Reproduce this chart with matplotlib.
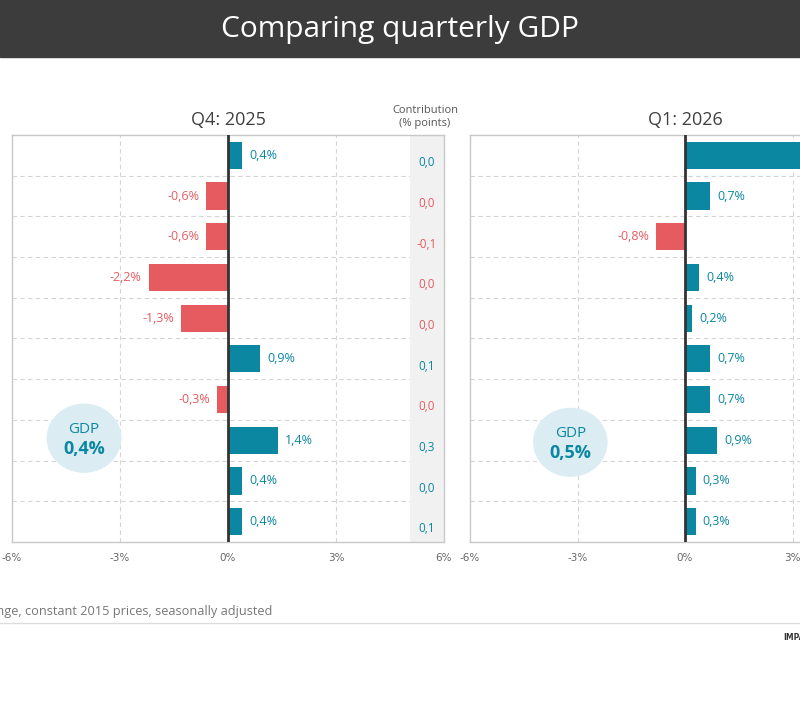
import matplotlib.pyplot as plt
from matplotlib.patches import Ellipse, Rectangle

plt.rcParams['font.family'] = ['Open Sans', 'DejaVu Sans']

# Data (growth %, contribution in % points)
q4_values = [0.4, -0.6, -0.6, -2.2, -1.3, 0.9, -0.3, 1.4, 0.4, 0.4]
q4_contrib = [0.0, 0.0, -0.1, 0.0, 0.0, 0.1, 0.0, 0.3, 0.0, 0.1]
q1_values = [4.5, 0.7, -0.8, 0.4, 0.2, 0.7, 0.7, 0.9, 0.3, 0.3]
gdp_q4 = 0.4
gdp_q1 = 0.5
x_ticks = [-6, -3, 0, 3, 6]

TEAL = '#0b87a1'
RED = '#e55b60'
GRID = '#d5d5d5'
W, H = 800, 720


def fmt(v, pct=True):
    s = f"{v:.1f}".replace('.', ',')
    return s + '%' if pct else s


def draw_panel(ax, values, title, gdp, bubble_x, bubble_y, contrib=None):
    rows = list(range(len(values)))
    colors = [TEAL if v >= 0 else RED for v in values]
    ax.set_xlim(-6, 6)
    ax.set_ylim(len(values) - 0.5, -0.5)

    for r in range(len(values) - 1):
        ax.axhline(r + 0.5, color=GRID, lw=0.8, ls=(0, (4, 3)), zorder=0)
    for xv in (-3, 3):
        ax.axvline(xv, color=GRID, lw=0.8, ls=(0, (4, 3)), zorder=0)

    if contrib is not None:
        ax.axvspan(5.05, 6, color='#f1f1f1', zorder=0.5, lw=0)
        for r, c, v in zip(rows, contrib, values):
            ax.text(5.52, r + 0.18, fmt(c, False), ha='center', va='center',
                    fontsize=8.5, color=TEAL if v >= 0 else RED, zorder=3)

    ax.barh(rows, values, height=0.67, color=colors, zorder=2)
    ax.axvline(0, color='#333333', lw=2, zorder=3)

    # value labels; the ones that fall past the figure edge are not shown
    px_per_unit = ax.get_position().width * W / 12
    x0 = ax.get_position().x0 * W
    for r, v, c in zip(rows, values, colors):
        if x0 + (v + 6) * px_per_unit + 40 > W:
            continue
        off = 5 if v >= 0 else -5
        ax.annotate(fmt(v), (v, r), xytext=(off, 0), textcoords='offset points',
                    ha='left' if v >= 0 else 'right', va='center',
                    fontsize=9, color=c, zorder=3)

    ax.add_patch(Ellipse((bubble_x, bubble_y), 2.08, 1.7, color='#dbedf3',
                         zorder=1, lw=0))
    ax.text(bubble_x, bubble_y - 0.22, 'GDP', ha='center', va='center',
            fontsize=11, color=TEAL, zorder=3)
    ax.text(bubble_x, bubble_y + 0.27, fmt(gdp), ha='center', va='center',
            fontsize=13, fontweight='bold', color=TEAL, zorder=3)

    ax.set_xticks(x_ticks)
    ax.set_xticklabels([f"{t}%" for t in x_ticks], fontsize=7.5,
                       color='#666666', fontfamily='DejaVu Sans')
    ax.tick_params(axis='x', length=0, pad=8)
    ax.set_yticks([])
    for s in ax.spines.values():
        s.set_color('#c8c8c8')
        s.set_linewidth(1)
    ax.set_title(title, fontsize=13, color='#404040', pad=7)


fig = plt.figure(figsize=(8, 7.2), dpi=100)

# header bar
fig.patches.append(Rectangle((0, 1 - 57 / H), 1, 57 / H, transform=fig.transFigure,
                             color='#3c3c3c', zorder=0))
fig.text(0.5, 1 - 30 / H, 'Comparing quarterly GDP', ha='center', va='center',
         fontsize=21.5, color='white')

ax1 = fig.add_axes([12 / W, 1 - 542 / H, 432 / W, 407 / H])
draw_panel(ax1, q4_values, 'Q4: 2025', gdp_q4, -4.0, 6.95, contrib=q4_contrib)
fig.text(425 / W, 1 - 117 / H, 'Contribution\n(% points)', ha='center', va='center',
         fontsize=8, color='#555555', linespacing=1.25)

ax2 = fig.add_axes([470 / W, 1 - 542 / H, 430 / W, 407 / H])
draw_panel(ax2, q1_values, 'Q1: 2026', gdp_q1, -3.2, 7.05)

fig.text(272 / W, 1 - 612 / H, 'Percentage change, constant 2015 prices, seasonally adjusted',
         ha='right', va='center', fontsize=9.2, color='#777777')
fig.add_artist(plt.Line2D([0, 1], [1 - 623 / H, 1 - 623 / H], color='#dddddd', lw=1))
fig.text(783 / W, 1 - 638 / H, 'IMPACT', ha='left', va='center', fontsize=5.5,
         fontweight='bold', color='#333333', fontfamily='DejaVu Sans')

fig.savefig('out.png', dpi=100)
